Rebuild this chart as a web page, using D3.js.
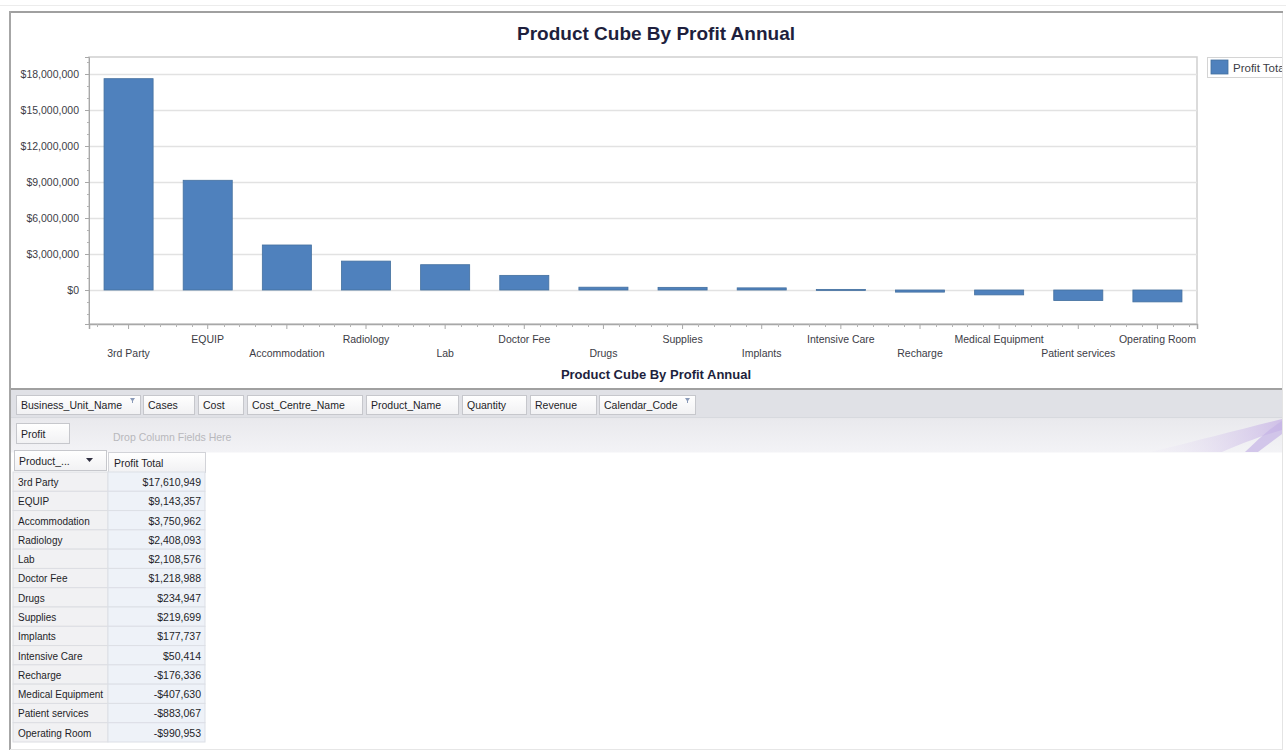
<!DOCTYPE html>
<html>
<head>
<meta charset="utf-8">
<script src="https://cdn.jsdelivr.net/npm/d3@7"></script>
<style>
body { margin: 0; background: #ffffff; }
text { font-family: "Liberation Sans", Arial, sans-serif; }
</style>
</head>
<body>
<script>
var width = 1286;
var height = 751;

var products = ["3rd Party", "EQUIP", "Accommodation", "Radiology", "Lab", "Doctor Fee", "Drugs",
    "Supplies", "Implants", "Intensive Care", "Recharge", "Medical Equipment", "Patient services", "Operating Room"];
var profitTotal = [17610949, 9143357, 3750962, 2408093, 2108576, 1218988, 234947,
    219699, 177737, 50414, -176336, -407630, -883067, -990953];
var yTicks = [0, 3000000, 6000000, 9000000, 12000000, 15000000, 18000000];
var fieldButtons = ["Business_Unit_Name", "Cases", "Cost", "Cost_Centre_Name", "Product_Name", "Quantity", "Revenue", "Calendar_Code"];
var chartTitle = "Product Cube By Profit Annual";
var seriesName = "Profit Total";

var loc = d3.formatLocale({decimal: ".", thousands: ",", grouping: [3], currency: ["$", ""], minus: "-"});
var fmt = loc.format("$,.0f");

var svg = d3.select("body")
    .append("svg")
    .attr("width", width)
    .attr("height", height);

var defs = svg.append("defs");
var g1 = defs.append("linearGradient").attr("id", "btn").attr("x1", 0).attr("y1", 0).attr("x2", 0).attr("y2", 1);
g1.append("stop").attr("offset", "0%").attr("stop-color", "#ffffff");
g1.append("stop").attr("offset", "100%").attr("stop-color", "#f1f1f3");
var g2 = defs.append("linearGradient").attr("id", "row2").attr("x1", 0).attr("y1", 0).attr("x2", 0).attr("y2", 1);
g2.append("stop").attr("offset", "0%").attr("stop-color", "#e9e9ed");
g2.append("stop").attr("offset", "100%").attr("stop-color", "#f3f3f6");
var g3 = defs.append("linearGradient").attr("id", "swoosh").attr("x1", 0).attr("y1", 0).attr("x2", 1).attr("y2", 0);
g3.append("stop").attr("offset", "0%").attr("stop-color", "#ece8f4").attr("stop-opacity", 0.2);
g3.append("stop").attr("offset", "100%").attr("stop-color", "#c9b6e6");
defs.append("clipPath").attr("id", "clipR").append("rect").attr("x", 0).attr("y", 0).attr("width", 1282).attr("height", height);

// page frame
svg.append("line").attr("x1", 0).attr("x2", width).attr("y1", 5.5).attr("y2", 5.5).attr("stroke", "#ececec");
svg.append("line").attr("x1", 9).attr("x2", 1283).attr("y1", 12).attr("y2", 12).attr("stroke", "#a0a0a0").attr("stroke-width", 2);
svg.append("line").attr("x1", 10).attr("x2", 10).attr("y1", 11).attr("y2", 750).attr("stroke", "#a6a6a6").attr("stroke-width", 2);
svg.append("line").attr("x1", 1282.5).attr("x2", 1282.5).attr("y1", 13).attr("y2", 750).attr("stroke", "#e4e4e4");
svg.append("line").attr("x1", 10).attr("x2", 1283).attr("y1", 749.5).attr("y2", 749.5).attr("stroke", "#e6e6e6");

// chart
var pLeft = 89, pRight = 1197, pTop = 57, pBottom = 324;

var x = d3.scaleBand()
    .domain(products)
    .range([pLeft, pRight])
    .paddingInner(0.38)
    .paddingOuter(0.19);

var y = d3.scaleLinear()
    .domain([-2833333, 19416667])
    .range([pBottom, pTop]);

svg.append("text")
    .attr("x", 656).attr("y", 40)
    .attr("text-anchor", "middle")
    .attr("font-size", "19px").attr("font-weight", "bold")
    .attr("fill", "#1e1f3d")
    .text(chartTitle);

svg.append("rect")
    .attr("x", pLeft).attr("y", pTop).attr("width", pRight - pLeft).attr("height", pBottom - pTop)
    .attr("fill", "#ffffff").attr("stroke", "#cfcfcf").attr("stroke-width", 1.5);

svg.append("g").selectAll("line")
    .data(yTicks)
    .enter().append("line")
    .attr("x1", pLeft).attr("x2", pRight)
    .attr("y1", function(d){ return Math.round(y(d)) + 0.5; })
    .attr("y2", function(d){ return Math.round(y(d)) + 0.5; })
    .attr("stroke", "#e2e2e2").attr("stroke-width", 1.5);

// y axis with minor ticks
var yAxis = d3.axisLeft(y).tickValues(yTicks).tickFormat(fmt).tickSize(4).tickPadding(6);
var yMinor = d3.range(-2000000, 19000001, 1000000).filter(function(v){ return v % 3000000 != 0; });
var ay = svg.append("g").attr("transform", "translate(" + pLeft + ",0)").call(yAxis);
ay.select(".domain").attr("stroke", "#a8a8a8");
ay.selectAll(".tick line").attr("stroke", "#a8a8a8");
ay.selectAll("text").attr("font-size", "10.5px").attr("fill", "#3c3c46").attr("font-family", "Liberation Sans, Arial, sans-serif");
ay.append("g").selectAll("line").data(yMinor).enter().append("line")
    .attr("x1", -2).attr("x2", 0)
    .attr("y1", function(d){ return Math.round(y(d)) + 0.5; })
    .attr("y2", function(d){ return Math.round(y(d)) + 0.5; })
    .attr("stroke", "#b4b4b4");

// bars
svg.append("g").selectAll("rect")
    .data(profitTotal)
    .enter().append("rect")
    .attr("x", function(d, i){ return x(products[i]); })
    .attr("width", x.bandwidth())
    .attr("y", function(d){ return Math.min(y(d), y(0)); })
    .attr("height", function(d){ return Math.max(1, Math.abs(y(d) - y(0))); })
    .attr("fill", "#4f81bd")
    .attr("stroke", "#44709f").attr("stroke-width", 0.8);

// x axis
var xAxis = d3.axisBottom(x).tickSize(5).tickFormat("");
var ax = svg.append("g").attr("transform", "translate(0," + pBottom + ")").call(xAxis);
ax.select(".domain").attr("stroke", "#a8a8a8").attr("stroke-width", 1.5);
ax.selectAll(".tick line").attr("stroke", "#a8a8a8");
var step = x.step() / 5;
var xMinor = d3.range(pLeft + step / 2, pRight, step).filter(function(v, i){ return i % 5 != 2; });
ax.append("g").selectAll("line").data(xMinor).enter().append("line")
    .attr("x1", function(d){ return Math.round(d) + 0.5; })
    .attr("x2", function(d){ return Math.round(d) + 0.5; })
    .attr("y1", 0).attr("y2", 3)
    .attr("stroke", "#b4b4b4");

svg.append("g").selectAll("text")
    .data(products)
    .enter().append("text")
    .attr("x", function(d){ return x(d) + x.bandwidth() / 2; })
    .attr("y", function(d, i){ return i % 2 == 0 ? 357 : 343; })
    .attr("text-anchor", "middle")
    .attr("font-size", "10.5px").attr("fill", "#3c3c46")
    .text(function(d){ return d; });

svg.append("text")
    .attr("x", 656).attr("y", 379)
    .attr("text-anchor", "middle")
    .attr("font-size", "13px").attr("font-weight", "bold")
    .attr("fill", "#1e1f3d")
    .text(chartTitle);

// legend
var leg = svg.append("g").attr("clip-path", "url(#clipR)");
leg.append("rect").attr("x", 1207.5).attr("y", 57.5).attr("width", 90).attr("height", 20)
    .attr("fill", "#ffffff").attr("stroke", "#d4d4d4");
leg.append("rect").attr("x", 1211).attr("y", 60).attr("width", 17).attr("height", 14)
    .attr("fill", "#4f81bd").attr("stroke", "#44709f").attr("stroke-width", 0.8);
leg.append("text").attr("x", 1233).attr("y", 71.5)
    .attr("font-size", "11.5px").attr("fill", "#3c3c46").text(seriesName);

// pivot grid
svg.append("line").attr("x1", 11).attr("x2", 1282).attr("y1", 389).attr("y2", 389).attr("stroke", "#a0a0a0").attr("stroke-width", 2);
svg.append("rect").attr("x", 11).attr("y", 390).attr("width", 1271).attr("height", 28).attr("fill", "#e0e1e6");
svg.append("line").attr("x1", 11).attr("x2", 1282).attr("y1", 418).attr("y2", 418).attr("stroke", "#cfd0d6");
svg.append("rect").attr("x", 11).attr("y", 418.5).attr("width", 1271).attr("height", 34).attr("fill", "url(#row2)");
svg.append("path").attr("d", "M1150,452 C1200,440 1245,428 1282,419 L1282,430 C1262,436 1240,444 1222,452 Z").attr("fill", "url(#swoosh)").attr("opacity", 0.8);
svg.append("path").attr("d", "M1245,452 C1258,440 1270,428 1282,421 L1282,434 C1274,440 1266,446 1258,452 Z").attr("fill", "#c5b3e6").attr("opacity", 0.7);

var btnX = [16, 143, 198, 247, 366, 462, 530, 599];
var btnW = [124, 51, 45, 115, 92, 64, 66, 96];
var btns = svg.append("g").selectAll("g")
    .data(fieldButtons)
    .enter().append("g")
    .attr("transform", function(d, i){ return "translate(" + btnX[i] + ",395)"; });
btns.append("rect").attr("x", 0.5).attr("y", 0.5)
    .attr("width", function(d, i){ return btnW[i]; }).attr("height", 19)
    .attr("fill", "url(#btn)").attr("stroke", "#c6c7cc");
btns.append("text").attr("x", 5).attr("y", 14)
    .attr("font-size", "10.5px").attr("fill", "#1e1e28")
    .text(function(d){ return d; });
btns.filter(function(d){ return d == "Business_Unit_Name" || d == "Calendar_Code"; })
    .append("path")
    .attr("d", function(d, i){ var w = d == "Calendar_Code" ? 96 : 124; return "M" + (w - 10) + ",3 L" + (w - 5) + ",3 L" + (w - 7) + ",6 L" + (w - 7) + ",8 L" + (w - 8) + ",8 L" + (w - 8) + ",6 Z"; })
    .attr("fill", "#8a9ab8");

svg.append("rect").attr("x", 16.5).attr("y", 423.5).attr("width", 53).attr("height", 20)
    .attr("fill", "url(#btn)").attr("stroke", "#c6c7cc");
svg.append("text").attr("x", 21).attr("y", 437.5).attr("font-size", "10.5px").attr("fill", "#1e1e28").text("Profit");
svg.append("text").attr("x", 113).attr("y", 440.5).attr("font-size", "10.5px").attr("fill", "#b8b8bc").text("Drop Column Fields Here");

// header cells
svg.append("rect").attr("x", 14.5).attr("y", 450.5).attr("width", 92).attr("height", 20)
    .attr("fill", "url(#btn)").attr("stroke", "#c6c7cc");
svg.append("text").attr("x", 19).attr("y", 464.5).attr("font-size", "10.5px").attr("fill", "#1e1e28").text("Product_...");
svg.append("path").attr("d", "M86,458 L93,458 L89.5,462 Z").attr("fill", "#303040");
svg.append("rect").attr("x", 108.5).attr("y", 452.5).attr("width", 97).attr("height", 20)
    .attr("fill", "url(#btn)").attr("stroke", "#d2d3d8");
svg.append("text").attr("x", 114).attr("y", 466.5).attr("font-size", "10.5px").attr("fill", "#1e1e28").text(seriesName);

// rows
var rowY = d3.scaleBand().domain(products).range([472, 742]);
var rows = svg.append("g").selectAll("g")
    .data(products)
    .enter().append("g")
    .attr("transform", function(d){ return "translate(0," + rowY(d) + ")"; });
rows.append("rect").attr("x", 13).attr("y", 0).attr("width", 95).attr("height", rowY.bandwidth())
    .attr("fill", "#f1f1f3").attr("stroke", "#dcdde2");
rows.append("rect").attr("x", 108).attr("y", 0).attr("width", 97).attr("height", rowY.bandwidth())
    .attr("fill", "#eef2f8").attr("stroke", "#dcdfe6");
rows.append("text").attr("x", 18).attr("y", 14)
    .attr("font-size", "10px").attr("fill", "#1e1e28")
    .text(function(d){ return d; });
rows.append("text").attr("x", 201).attr("y", 14)
    .attr("text-anchor", "end")
    .attr("font-size", "10.5px").attr("fill", "#1e1e28")
    .text(function(d, i){ return fmt(profitTotal[i]); });
</script>
</body>
</html>
